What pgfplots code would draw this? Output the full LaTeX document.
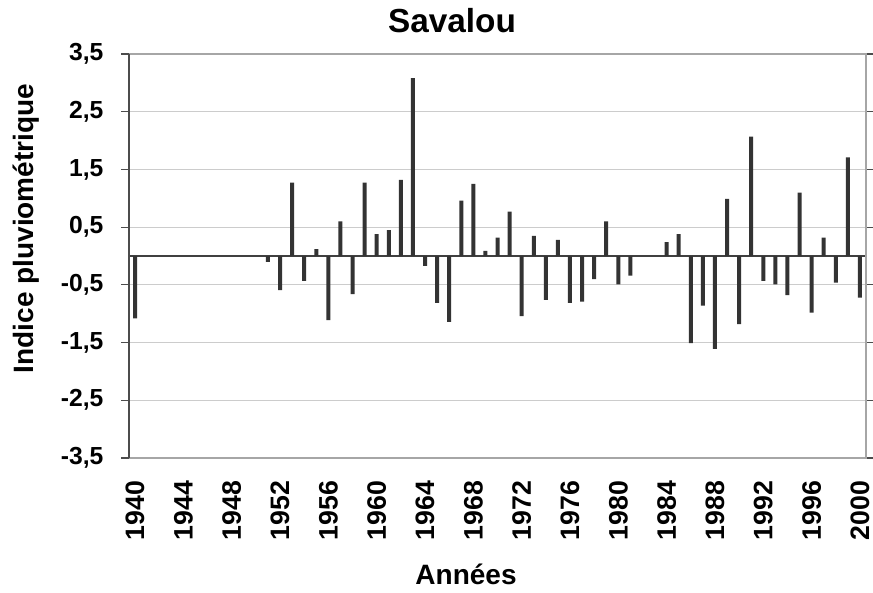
\documentclass[border=0pt]{standalone}
\usepackage{pgfplots}
\pgfplotsset{compat=1.18}
\usepackage{fontspec}
\setmainfont{Liberation Sans}
\begin{document}
\begin{tikzpicture}
\begin{axis}[
  at={(0,0)}, anchor=south west,
  scale only axis, width=552.75pt, height=303pt,
  xmin=1939.5, xmax=2000.5, ymin=-3.5, ymax=3.5,
  axis line style={draw=none},
  ytick={-3.5,-2.5,-1.5,-0.5,0.5,1.5,2.5,3.5},
  yticklabels={{-3,5},{-2,5},{-1,5},{-0,5},{0,5},{1,5},{2,5},{3,5}},
  xtick={1940,1944,1948,1952,1956,1960,1964,1968,1972,1976,1980,1984,1988,1992,1996,2000},
  xticklabels={1940,1944,1948,1952,1956,1960,1964,1968,1972,1976,1980,1984,1988,1992,1996,2000},
  ymajorgrids, grid style={black!20, line width=0.8pt},
  extra y ticks={0}, extra y tick labels={},
  extra y tick style={major grid style={black!75, line width=0.8pt}, major tick length=0pt},
  tick align=outside, major tick length=6pt,
  ytick style={black!70, line width=0.8pt},
  xtick style={draw=none},
  yticklabel style={font=\bfseries\fontsize{18.5}{18.5}\selectfont, anchor=east, inner sep=0pt},
  yticklabel shift=13pt,
  xticklabel style={font=\bfseries\fontsize{20}{20}\selectfont, rotate=90, anchor=east, inner sep=0pt},
  xticklabel shift=11pt,
  clip=false,
]
\addplot[ybar, bar width=3pt, fill=black!80, draw=none] coordinates {
(1940,-1.08) (1951,-0.10) (1952,-0.59) (1953,1.27) (1954,-0.43) (1955,0.12)
(1956,-1.11) (1957,0.60) (1958,-0.66) (1959,1.27) (1960,0.38) (1961,0.45)
(1962,1.32) (1963,3.08) (1964,-0.17) (1965,-0.81) (1966,-1.14) (1967,0.96)
(1968,1.25) (1969,0.09) (1970,0.32) (1971,0.77) (1972,-1.04) (1973,0.35)
(1974,-0.76) (1975,0.28) (1976,-0.81) (1977,-0.79) (1978,-0.40) (1979,0.60)
(1980,-0.49) (1981,-0.34) (1984,0.24) (1985,0.38) (1986,-1.51) (1987,-0.86)
(1988,-1.61) (1989,0.99) (1990,-1.18) (1991,2.07) (1992,-0.43) (1993,-0.49)
(1994,-0.68) (1995,1.10) (1996,-0.98) (1997,0.32) (1998,-0.46) (1999,1.71)
(2000,-0.72)
};
\end{axis}
\draw[black!35, line width=0.8pt] (0,303pt) -- (552.75pt,303pt) -- (552.75pt,0) -- (0,0);
\draw[black!70, line width=0.8pt] (0,0) -- (0,303pt);
\node[anchor=base, font=\bfseries\fontsize{25}{25}\selectfont] at (242.25pt,318.75pt) {Savalou};
\node[anchor=base, font=\bfseries\fontsize{21}{21}\selectfont] at (252.75pt,-94.5pt) {Années};
\node[anchor=base, rotate=90, font=\bfseries\fontsize{21}{21}\selectfont] at (-71.6pt,172.1pt) {Indice pluviométrique};
\pgfresetboundingbox
\useasboundingbox (-96.75pt,-100.5pt) rectangle (558pt,343.5pt);
\end{tikzpicture}
\end{document}
